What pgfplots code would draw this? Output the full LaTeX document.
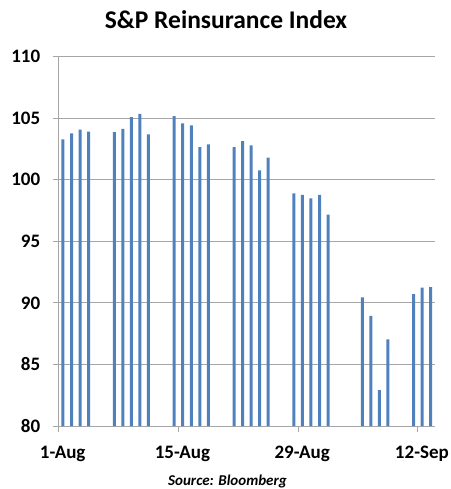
\documentclass[border=0pt]{standalone}
\usepackage{pgfplots}
\pgfplotsset{compat=1.18}
\usepackage{fontspec}
\setmainfont{Carlito}
\definecolor{barblue}{HTML}{4F81BD}
\definecolor{gridgray}{HTML}{A6A6A6}
\begin{document}
\begin{tikzpicture}
\begin{axis}[
  at={(0,0)}, anchor=south west,
  scale only axis, width=376.3bp, height=369.3bp,
  xmin=0, xmax=44, ymin=80, ymax=110,
  axis x line*=bottom, axis y line*=left,
  axis line style={gridgray, line width=0.9bp},
  xtick={0,14,28,42}, xticklabels={1-Aug,15-Aug,29-Aug,12-Sep},
  ytick={80,85,90,95,100,105,110},
  tick align=outside,
  major tick length=6bp,
  tick style={gridgray, line width=0.9bp},
  ymajorgrids, grid style={gridgray, line width=0.9bp},
  /pgf/number format/assume math mode=true,
  ticklabel style={font=\fontsize{19bp}{21bp}\selectfont\bfseries},
  xticklabel style={xshift=4bp, yshift=-11bp},
  yticklabel style={xshift=-9bp},
  ybar, bar width=3bp,
  clip=true,
]
\addplot[fill=barblue, draw=none] coordinates {
 (0.5,103.29) (1.5,103.77) (2.5,104.07) (3.5,103.91)
 (6.5,103.88) (7.5,104.13) (8.5,105.10) (9.5,105.35) (10.5,103.69)
 (13.5,105.18) (14.5,104.59) (15.5,104.42) (16.5,102.66) (17.5,102.88)
 (20.5,102.66) (21.5,103.15) (22.5,102.80) (23.5,100.77) (24.5,101.80)
 (27.5,98.90) (28.5,98.77) (29.5,98.49) (30.5,98.77) (31.5,97.17)
 (35.5,90.45) (36.5,88.94) (37.5,82.92) (38.5,87.04)
 (41.5,90.72) (42.5,91.24) (43.5,91.29)
};
\end{axis}
\node[font=\fontsize{25.5bp}{28bp}\selectfont\bfseries] at (167.3bp,406bp) {S\&P Reinsurance Index};
\node[font=\fontsize{15bp}{17bp}\selectfont\bfseries\itshape] at (168.8bp,-55bp) {Source: Bloomberg};
\pgfresetboundingbox
\path[use as bounding box] (-58.7bp,-63bp) rectangle (392.3bp,426bp);
\end{tikzpicture}
\end{document}
